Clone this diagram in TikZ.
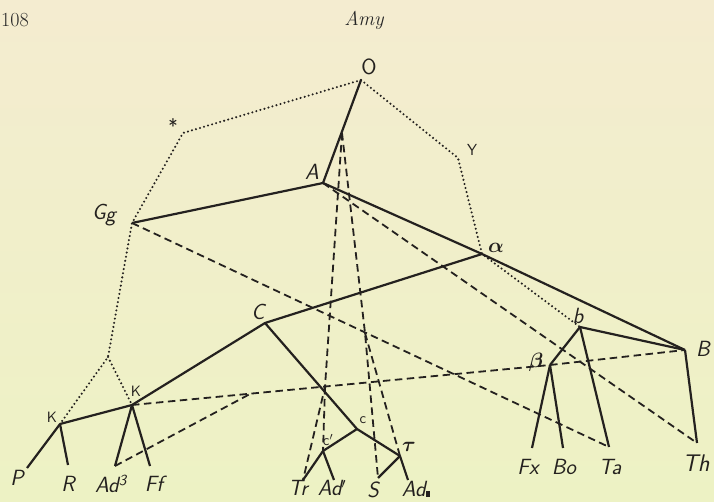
\documentclass[tikz,border=0pt]{standalone}
\usepackage{amsmath}
\usetikzlibrary{calc}
\definecolor{ink}{RGB}{36,33,31}
\definecolor{bgtop}{RGB}{244,236,208}
\definecolor{bgbot}{RGB}{237,242,196}
\begin{document}
\begin{tikzpicture}[x=1pt,y=-1pt,
  solidl/.style={draw=ink,line width=2.2pt,line join=round},
  dashl/.style={draw=ink,line width=1.8pt,dash pattern=on 7.5pt off 4.5pt},
  dotl/.style={draw=ink,line width=2.3pt,dash pattern=on 0pt off 4.2pt,line cap=round},
  lbl/.style={text=ink,font=\fontsize{22}{24}\selectfont\sffamily\slshape,inner sep=0pt},
  slbl/.style={text=ink,font=\fontsize{15}{17}\selectfont\sffamily,inner sep=0pt},
  hdr/.style={text=black!85,font=\fontsize{20}{22}\selectfont,inner sep=0pt}]
\shade[top color=bgtop,bottom color=bgbot] (0,0) rectangle (714,502);
\useasboundingbox (0,0) rectangle (714,502);

% junction points
\coordinate (O) at (361,80);
\coordinate (A) at (323,183);
\coordinate (Gg) at (132,223);
\coordinate (X) at (183,133);
\coordinate (Y) at (458,158);
\coordinate (al) at (482,254);
\coordinate (C) at (265,323);
\coordinate (K1) at (60,424);
\coordinate (K2) at (132,405);
\coordinate (fork) at (108,357);
\coordinate (gmid) at (120,290);
\coordinate (apex) at (342,133);
\coordinate (lsplit) at (325,387);
\coordinate (rsplit) at (365,333);
\coordinate (c) at (357,429);
\coordinate (cp) at (323,451);
\coordinate (tau) at (400,456);
\coordinate (b) at (580,327);
\coordinate (beta) at (550,365);
\coordinate (B) at (685,350);
% free ends
\coordinate (Pe) at (27,468);
\coordinate (Re) at (68,465);
\coordinate (Ad3e) at (115,466);
\coordinate (Ffe) at (150,466);
\coordinate (Tre) at (303,480);
\coordinate (Adpe) at (334,480);
\coordinate (Se) at (378,478);
\coordinate (Adde) at (408,480);
\coordinate (Fxe) at (532,448);
\coordinate (Boe) at (563,448);
\coordinate (Tae) at (609,447);
\coordinate (The) at (697,443);
\coordinate (ad3top) at (250,394);

% dotted
\draw[dotl] (O) -- (X) -- (Gg) -- (gmid) -- (fork) -- (K1);
\draw[dotl] (fork) -- (K2);
\draw[dotl] (O) -- (Y) -- (al) -- (b);

% dashed
\draw[dashl] (apex) -- (lsplit) -- (Tre);
\draw[dashl] (lsplit) -- (cp);
\draw[dashl] (apex) -- (rsplit) -- (Se);
\draw[dashl] (rsplit) -- (tau);
\draw[dashl] (Gg) -- (Tae);
\draw[dashl] (A) -- (The);
\draw[dashl] (K2) -- (beta) -- (B);
\draw[dashl] (Ad3e) -- (ad3top);

% solid
\draw[solidl] (O) -- (A) -- (Gg);
\draw[solidl] (A) -- (al) -- (B);
\draw[solidl] (al) -- (C) -- (K2) -- (K1) -- (Pe);
\draw[solidl] (K1) -- (Re);
\draw[solidl] (K2) -- (Ad3e);
\draw[solidl] (K2) -- (Ffe);
\draw[solidl] (C) -- (c) -- (tau) -- (Adde);
\draw[solidl] (c) -- (cp) -- (Tre);
\draw[solidl] (cp) -- (Adpe);
\draw[solidl] (tau) -- (Se);
\draw[solidl] (b) -- (beta);
\draw[solidl] (b) -- (B);
\draw[solidl] (b) -- (Tae);
\draw[solidl] (beta) -- (Fxe);
\draw[solidl] (beta) -- (Boe);
\draw[solidl] (B) -- (The);

% header
\node[hdr,anchor=west] (pg) at (1,20) {108};
\node[hdr,font=\fontsize{20}{22}\selectfont\itshape] (ttl) at (364,20) {Amy};

% labels
\node[lbl,font=\fontsize{22}{24}\selectfont\sffamily] (lO) at (369,67) {O};
\node[lbl,font=\fontsize{20}{22}\selectfont\sffamily] (lX) at (173,126) {*};
\node[lbl,font=\fontsize{16}{18}\selectfont\sffamily] (lY) at (472,150) {Y};
\node[lbl] (lGg) at (104,215) {G\kern-0.5pt\raisebox{-2pt}{g}};
\node[lbl] (lA) at (312,172) {A};
\node[lbl] (lal) at (496,248) {$\boldsymbol{\alpha}$};
\node[lbl] (lC) at (258,312) {C};
\node[slbl] (lK1) at (52,417) {K};
\node[slbl] (lK2) at (136,391) {K};
\node[slbl] (lc) at (363,420) {c};
\node[slbl] (lcp) at (328,440) {c$'$};
\node[lbl] (ltau) at (409,447) {$\boldsymbol{\tau}$};
\node[lbl] (lb) at (578,316) {b};
\node[lbl] (lbeta) at (536,362) {$\boldsymbol{\beta}$};
\node[lbl] (lB) at (703,349) {B};

\node[lbl] (lP) at (17,478) {P};
\node[lbl] (lR) at (68,484) {R};
\node[lbl] (lAd3) at (111,484) {Ad\textsuperscript{3}};
\node[lbl] (lFf) at (154,484) {Ff};
\node[lbl] (lTr) at (298,488) {Tr};
\node[lbl] (lAdp) at (332,488) {Ad$'$};
\node[lbl] (lS) at (373,490) {S};
\node[lbl] (lAdd) at (416,489) {Ad\rule{4.5pt}{5.5pt}};
\node[lbl] (lFx) at (528,467) {Fx};
\node[lbl] (lBo) at (564,467) {Bo};
\node[lbl] (lTa) at (610,467) {Ta};
\node[lbl,font=\fontsize{24}{26}\selectfont\sffamily\slshape] (lTh) at (696,463) {Th};
\end{tikzpicture}
\end{document}
